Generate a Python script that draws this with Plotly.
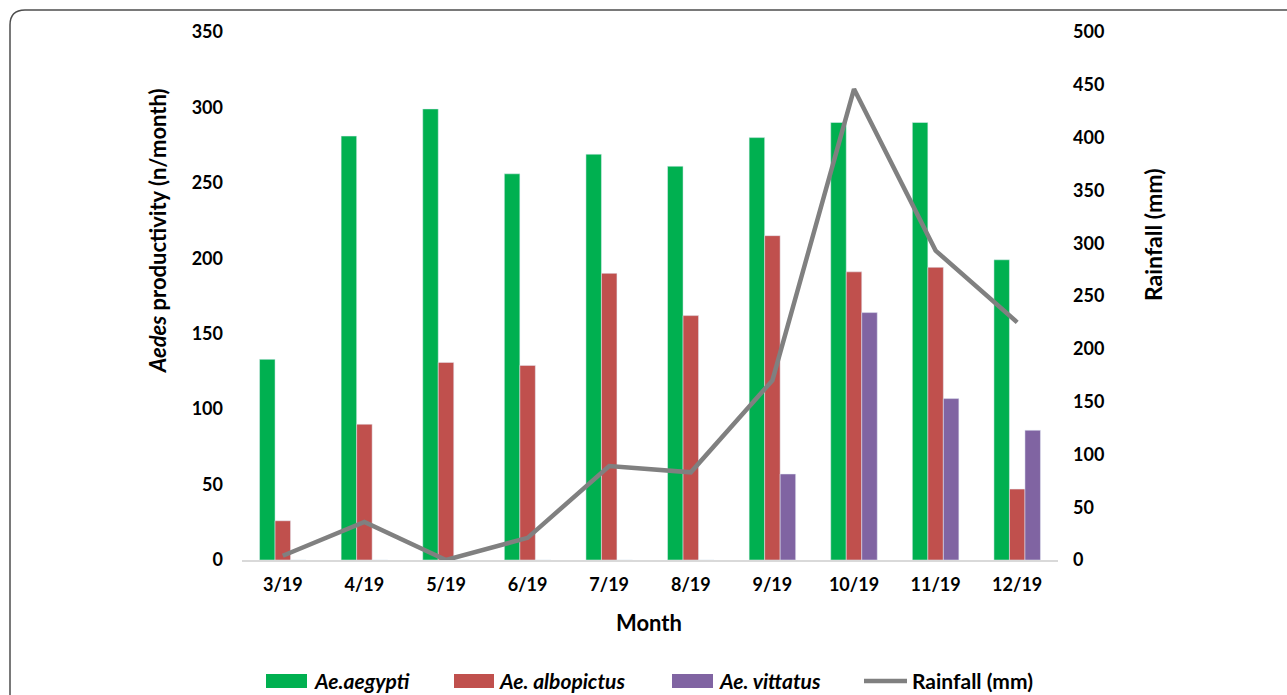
import plotly.graph_objects as go

# Monthly Aedes productivity and rainfall, March–December 2019
months = ["3/19", "4/19", "5/19", "6/19", "7/19", "8/19", "9/19", "10/19", "11/19", "12/19"]
aegypti = [133, 281, 299, 256, 269, 261, 280, 290, 290, 199]
albopictus = [26, 90, 131, 129, 190, 162, 215, 191, 194, 47]
vittatus = [0, 0, 0, 0, 0, 0, 57, 164, 107, 86]
rainfall = [4, 36, 0, 21, 89, 83, 170, 446, 293, 225]

GREEN = "#00B050"
RED = "#C0504D"
PURPLE = "#8064A2"
GREY = "#808080"
FONT = "Lato"

W, H = 1287, 695
ML, MR, MT, MB = 242, 229, 32, 135
PW, PH = W - ML - MR, H - MT - MB


def px(x):
    return (x - ML) / PW


def py(y):
    return (H - MB - y) / PH


fig = go.Figure()
fig.add_trace(go.Bar(x=months, y=aegypti, name="Ae.aegypti", marker_color=GREEN, showlegend=False))
fig.add_trace(go.Bar(x=months, y=albopictus, name="Ae. albopictus", marker_color=RED, showlegend=False))
fig.add_trace(go.Bar(x=months, y=vittatus, name="Ae. vittatus", marker_color=PURPLE, showlegend=False))
fig.add_trace(go.Scatter(x=months, y=rainfall, name="Rainfall (mm)", yaxis="y2", mode="lines",
                         line=dict(color=GREY, width=4.5), showlegend=False))

tickfont = dict(family=FONT, size=18, color="#000000", weight="bold")

fig.update_layout(
    width=W, height=H,
    margin=dict(l=ML, r=MR, t=MT, b=MB),
    paper_bgcolor="white", plot_bgcolor="white",
    barmode="group", bargap=0.43, bargroupgap=0,
    font=dict(family=FONT, color="#000000"),
    xaxis=dict(showgrid=False, showline=True, linecolor="#D9D9D9", linewidth=1.5,
               ticks="", tickfont=tickfont, ticklabelstandoff=8),
    yaxis=dict(range=[0, 350], tickvals=[0, 50, 100, 150, 200, 250, 300, 350],
               showgrid=False, zeroline=False, showline=False, ticks="",
               tickfont=tickfont, ticklabelstandoff=18),
    yaxis2=dict(range=[0, 500], tickvals=[0, 50, 100, 150, 200, 250, 300, 350, 400, 450, 500],
                overlaying="y", side="right", showgrid=False, zeroline=False, showline=False,
                ticks="", tickfont=tickfont, ticklabelstandoff=14),
)

annotations = [
    dict(text="<b><i>Aedes</i> productivity (n/month)</b>", x=px(157), y=py(231), textangle=-90,
         font=dict(family=FONT, size=22)),
    dict(text="<b>Rainfall (mm)</b>", x=px(1153), y=py(235), textangle=-90,
         font=dict(family=FONT, size=23)),
    dict(text="<b>Month</b>", x=px(649), y=py(622), font=dict(family=FONT, size=22)),
]

# Legend row drawn along the bottom
legend_items = [
    ("rect", GREEN, 266, 307, "<b><i>Ae.aegypti</i></b>", 312),
    ("rect", RED, 454, 494, "<b><i>Ae. albopictus</i></b>", 497),
    ("rect", PURPLE, 672, 713, "<b><i>Ae. vittatus</i></b>", 717),
    ("line", GREY, 864, 907, "<b>Rainfall (mm)</b>", 910),
]
shapes = []
LEG_Y = 681
for kind, color, x0, x1, label, tx in legend_items:
    if kind == "rect":
        shapes.append(dict(type="rect", xref="paper", yref="paper", x0=px(x0), x1=px(x1),
                           y0=py(LEG_Y + 7), y1=py(LEG_Y - 7), fillcolor=color, line_width=0))
    else:
        shapes.append(dict(type="line", xref="paper", yref="paper", x0=px(x0), x1=px(x1),
                           y0=py(LEG_Y), y1=py(LEG_Y), line=dict(color=color, width=4.5)))
    annotations.append(dict(text=label, x=px(tx), y=py(LEG_Y - 1), xanchor="left",
                            font=dict(family=FONT, size=21)))

# Rounded outer frame (top-left corner)
r = 15
frame = (f"M {px(10)},{py(H + 5)} L {px(10)},{py(10 + r)} "
         f"Q {px(10)},{py(10)} {px(10 + r)},{py(10)} L {px(W + 5)},{py(10)}")
shapes.append(dict(type="path", xref="paper", yref="paper", path=frame,
                   line=dict(color="#4D4D4D", width=1.5)))

for a in annotations:
    a.setdefault("xref", "paper")
    a.setdefault("yref", "paper")
    a.setdefault("showarrow", False)
    a.setdefault("xanchor", "center")
    a.setdefault("yanchor", "middle")

fig.update_layout(annotations=annotations, shapes=shapes)
fig.write_html("out.html")
